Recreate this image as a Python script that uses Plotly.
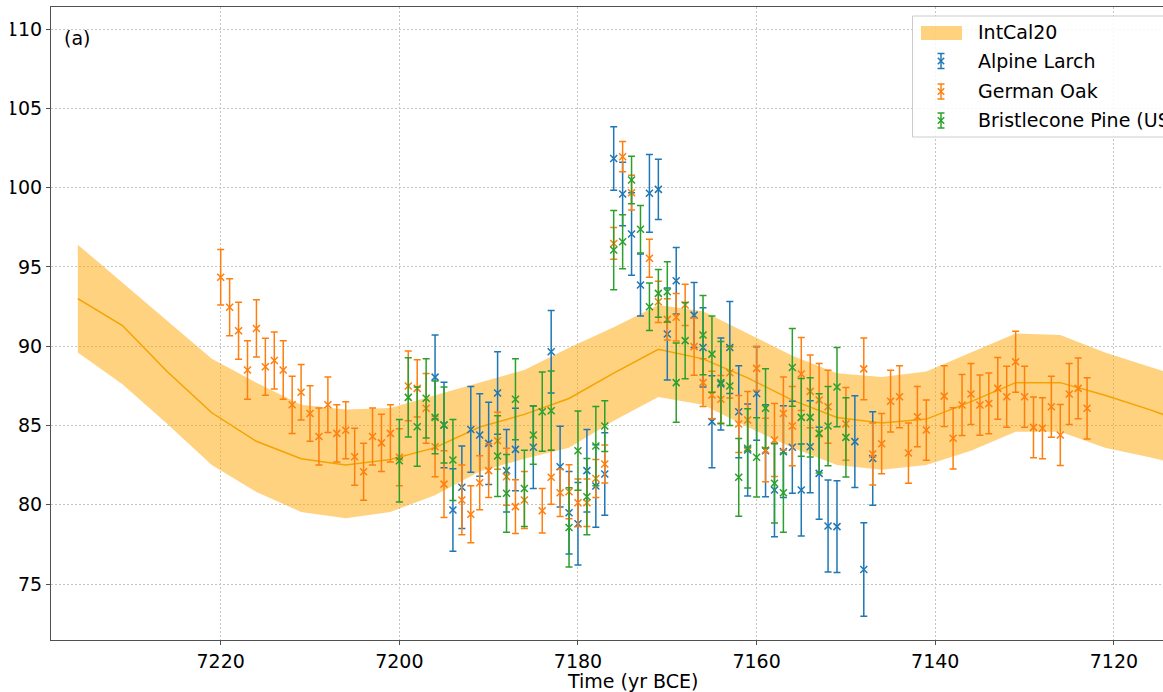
import plotly.graph_objects as go

# ---- IntCal20 calibration curve (5-yr grid), mean and 1-sigma envelope ----
intcal_year = [7236, 7231, 7226, 7221, 7216, 7211, 7206, 7201, 7196, 7191, 7186, 7181, 7176,
               7171, 7166, 7161, 7156, 7151, 7146, 7141, 7136, 7131, 7126, 7121, 7116, 7111]
intcal_mean = [93.0, 91.3, 88.4, 85.8, 84.0, 82.9, 82.5, 82.85, 83.6, 84.9, 85.7, 86.7, 88.3,
               89.8, 89.2, 88.0, 86.6, 85.5, 85.15, 85.4, 86.5, 87.7, 87.7, 86.9, 86.0, 85.0]
intcal_upper = [96.4, 94.0, 91.6, 89.2, 87.7, 86.3, 86.0, 86.1, 86.9, 87.7, 88.5, 89.9, 91.2,
                92.6, 92.2, 90.8, 89.4, 88.3, 88.05, 88.4, 89.6, 90.8, 90.7, 89.6, 88.7, 87.8]
intcal_lower = [89.6, 87.6, 85.1, 82.5, 80.8, 79.55, 79.15, 79.55, 80.6, 82.1, 82.9, 83.6, 85.3,
                86.8, 86.3, 84.9, 83.6, 82.5, 82.2, 82.5, 83.4, 84.6, 84.6, 83.6, 83.0, 82.3]

# ---- Alpine Larch ----
larch_year = [7196, 7195, 7194, 7193, 7192, 7191, 7190, 7189, 7188, 7187, 7185, 7183, 7182,
              7181, 7180, 7179, 7178, 7177, 7176, 7175, 7174, 7173, 7172, 7171, 7170, 7169,
              7167, 7166, 7165, 7164, 7163, 7162, 7161, 7160, 7159, 7158, 7157, 7156, 7155,
              7154, 7153, 7152, 7151, 7149, 7148, 7147]
larch_val = [88.05, 85.03, 79.67, 81.1, 84.75, 84.4, 83.87, 87.05, 82.15, 83.49, 83.62, 89.65, 82.4,
             79.5, 78.8, 82.15, 81.18, 81.94, 101.84, 99.6, 97.07, 93.86, 99.64, 99.89, 90.77, 94.13,
             91.96, 89.92, 85.24, 87.61, 89.92, 85.87, 83.45, 87.02, 83.41, 80.93, 83.35, 83.62, 80.93,
             83.66, 81.98, 78.66, 78.62, 83.98, 75.92, 82.92]
larch_err = [2.65, 2.7, 2.6, 2.6, 2.7, 2.6, 2.6, 2.6, 2.6, 2.6, 2.6, 2.6, 2.55,
             2.6, 2.6, 2.6, 2.6, 2.6, 2.0, 2.0, 2.6, 1.95, 2.45, 1.9, 2.9, 2.1,
             2.05, 2.5, 2.9, 2.9, 2.9, 2.9, 2.9, 2.95, 2.9, 2.95, 2.9, 2.9, 2.9,
             2.9, 2.9, 2.9, 2.9, 2.9, 2.95, 2.95]

# ---- German Oak ----
oak_year = [7220, 7219, 7218, 7217, 7216, 7215, 7214, 7213, 7212, 7211, 7210, 7209, 7208, 7207,
            7206, 7205, 7204, 7203, 7202, 7201, 7200, 7199, 7198, 7197, 7196, 7195, 7193, 7192,
            7191, 7190, 7189, 7188, 7187, 7186, 7184, 7183, 7182, 7181, 7180, 7179, 7178, 7177,
            7176, 7175, 7174, 7172, 7171, 7170, 7169, 7168, 7167, 7166, 7165, 7164, 7163, 7162,
            7161, 7160, 7159, 7158, 7157, 7156, 7155, 7154, 7153, 7152, 7150, 7148, 7147, 7146,
            7145, 7144, 7143, 7142, 7141, 7139, 7138, 7137, 7136, 7135, 7134, 7133, 7132, 7131,
            7130, 7129, 7128, 7127, 7126, 7125, 7124, 7123]
oak_val = [94.35, 92.45, 90.97, 88.5, 91.12, 88.7, 89.1, 88.5, 86.3, 87.1, 85.76, 84.3, 86.3, 84.5,
           84.7, 83.03, 82.08, 84.3, 83.9, 84.5, 83.0, 87.49, 87.34, 86.08, 83.66, 81.3, 80.3, 79.4,
           81.39, 82.15, 84.04, 81.77, 79.88, 80.3, 79.62, 81.73, 80.76, 80.82, 80.13, 80.13, 81.66, 82.57,
           96.48, 101.95, 99.68, 95.54, 92.8, 91.69, 91.82, 92.6, 89.97, 87.7, 86.92, 86.65, 88.33, 85.09,
           85.34, 88.6, 83.45, 84.08, 85.76, 84.96, 88.24, 87.15, 86.6, 86.18, 85.1, 88.57, 83.2, 83.85,
           86.53, 86.81, 83.26, 85.55, 84.71, 86.85, 84.19, 86.29, 86.98, 86.29, 86.39, 87.34, 86.81, 89.02,
           86.81, 84.88, 84.82, 86.18, 84.4, 86.98, 87.34, 86.08]
oak_err = [1.75, 1.8, 1.8, 1.85, 1.8, 1.8, 1.8, 1.85, 1.8, 1.75, 1.75, 1.8, 1.75, 1.8,
           1.8, 1.8, 1.8, 1.8, 1.8, 1.8, 1.8, 2.2, 1.8, 2.2, 1.9, 2.1, 2.2, 1.8,
           1.7, 1.7, 1.8, 1.8, 1.7, 1.8, 1.4, 1.7, 1.5, 1.7, 1.5, 1.5, 1.2, 1.2,
           1.0, 0.95, 1.1, 1.2, 1.3, 1.3, 1.5, 1.3, 1.8, 1.5, 1.5, 1.5, 1.6, 1.8,
           1.8, 1.4, 2.0, 2.3, 2.3, 2.5, 2.3, 2.3, 2.3, 2.3, 2.3, 1.95, 1.95, 1.9,
           1.95, 1.95, 1.9, 1.9, 1.9, 1.92, 1.93, 1.93, 1.92, 1.9, 1.92, 1.95, 1.92, 1.92,
           1.92, 1.92, 1.92, 1.92, 1.92, 1.92, 1.92, 1.93]

# ---- Bristlecone Pine (USA) ----
pine_year = [7200, 7199, 7198, 7197, 7196, 7195, 7194, 7189, 7188, 7187, 7186, 7185, 7184, 7183,
             7181, 7180, 7179, 7178, 7177, 7176, 7175, 7174, 7173, 7172, 7171, 7170, 7169, 7168,
             7166, 7165, 7164, 7163, 7162, 7161, 7160, 7159, 7158, 7157, 7156, 7155, 7154, 7153,
             7152, 7151, 7150]
pine_val = [82.78, 86.77, 84.92, 86.71, 85.51, 85.03, 82.82, 83.07, 80.72, 86.65, 81.03, 84.4, 85.87, 85.93,
            78.57, 83.41, 80.51, 83.7, 84.96, 96.06, 96.59, 100.48, 97.37, 92.49, 93.33, 93.43, 87.7, 90.35,
            90.7, 89.5, 87.7, 87.49, 81.73, 83.56, 82.99, 86.08, 81.35, 80.76, 88.66, 85.51, 85.51, 84.5,
            84.96, 87.42, 84.25]
pine_err = [2.6, 2.5, 2.5, 2.5, 2.3, 2.4, 2.55, 2.55, 2.45, 2.55, 2.4, 1.85, 2.5, 2.5,
            2.5, 2.5, 2.4, 2.5, 1.6, 2.5, 1.7, 1.5, 1.5, 1.5, 1.5, 1.9, 2.5, 2.4,
            2.5, 2.4, 2.6, 2.5, 2.45, 2.5, 2.5, 2.5, 2.5, 2.5, 2.45, 2.45, 2.5, 2.5,
            2.5, 2.5, 2.5]

legend_names = ["IntCal20", "Alpine Larch", "German Oak", "Bristlecone Pine (USA)"]

BLUE, ORANGE, GREEN = "#1f77b4", "#ff7f0e", "#2ca02c"
BAND = "rgba(255,165,0,0.5)"
FONT = "DejaVu Sans"

W, H = 1163, 692
ML, MR, MT, MB = 51, 0, 7, 52
PW, PH = W - ML - MR, H - MT - MB


def px(x):
    """Figure pixel column -> paper x."""
    return (x - ML) / PW


def py(y):
    """Figure pixel row (from top) -> paper y."""
    return (H - MB - y) / PH


fig = go.Figure()

# IntCal20 envelope as a closed polygon, then its mean curve
fig.add_trace(go.Scatter(
    x=intcal_year + intcal_year[::-1],
    y=intcal_upper + intcal_lower[::-1],
    fill="toself", fillcolor=BAND,
    line=dict(width=0, color="rgba(255,165,0,0)"),
    mode="lines", name=legend_names[0], hoverinfo="skip", showlegend=False,
))
fig.add_trace(go.Scatter(
    x=intcal_year, y=intcal_mean, mode="lines",
    line=dict(color="#f5a300", width=1.5), showlegend=False,
))


def series(xs, ys, errs, color, name):
    return go.Scatter(
        x=xs, y=ys, mode="markers", name=name, showlegend=False,
        marker=dict(symbol="x-thin", size=7, color=color, line=dict(width=1.5, color=color)),
        error_y=dict(type="data", array=errs, visible=True, color=color, thickness=1.5, width=3.5),
    )


fig.add_trace(series(larch_year, larch_val, larch_err, BLUE, legend_names[1]))
fig.add_trace(series(oak_year, oak_val, oak_err, ORANGE, legend_names[2]))
fig.add_trace(series(pine_year, pine_val, pine_err, GREEN, legend_names[3]))

axis_common = dict(
    showgrid=True, gridcolor="#c4c4c4", griddash="2px,2px", gridwidth=1,
    showline=True, linecolor="#505050", linewidth=1,
    ticks="outside", ticklen=4, tickcolor="#505050", tickwidth=1,
    tickfont=dict(family=FONT, size=19, color="black"),
    zeroline=False,
)

# ---- legend box drawn in the upper-right corner (runs past the right edge) ----
shapes = [
    dict(type="rect", xref="paper", yref="paper", layer="above",
         x0=px(912.5), x1=px(1220), y0=py(137), y1=py(16),
         line=dict(color="#cccccc", width=1), fillcolor="rgba(255,255,255,0.85)"),
    dict(type="rect", xref="paper", yref="paper", layer="above",
         x0=px(921), x1=px(962), y0=py(40), y1=py(26),
         line=dict(width=0), fillcolor=BAND),
]
row_y = [32, 61, 91.5, 120.5]
glyph_x = 941
for color, ry in zip([BLUE, ORANGE, GREEN], row_y[1:]):
    seg = [
        ((glyph_x, ry - 7.5), (glyph_x, ry + 7.5)),
        ((glyph_x - 3.5, ry - 7.5), (glyph_x + 3.5, ry - 7.5)),
        ((glyph_x - 3.5, ry + 7.5), (glyph_x + 3.5, ry + 7.5)),
        ((glyph_x - 3.2, ry - 3.2), (glyph_x + 3.2, ry + 3.2)),
        ((glyph_x - 3.2, ry + 3.2), (glyph_x + 3.2, ry - 3.2)),
    ]
    for (a, b) in seg:
        shapes.append(dict(type="line", xref="paper", yref="paper", layer="above",
                           x0=px(a[0]), y0=py(a[1]), x1=px(b[0]), y1=py(b[1]),
                           line=dict(color=color, width=1.5)))

# trims the leading digit of the three-digit y tick labels at the left edge
shapes.append(dict(type="rect", xref="paper", yref="paper", layer="above",
                   x0=px(-2), x1=px(10.5), y0=py(640), y1=py(0),
                   line=dict(width=0), fillcolor="white"))

annotations = [
    dict(text="(a)", xref="paper", yref="paper", x=px(62), y=py(38),
         xanchor="left", yanchor="middle", showarrow=False,
         font=dict(family=FONT, size=19, color="black")),
    dict(text="Time (yr BCE)", xref="paper", yref="paper", x=px(632), y=py(681),
         xanchor="center", yanchor="middle", showarrow=False,
         font=dict(family=FONT, size=19, color="black")),
]
for name, ry in zip(legend_names, row_y):
    annotations.append(dict(text=name, xref="paper", yref="paper", x=px(976), y=py(ry),
                            xanchor="left", yanchor="middle", showarrow=False,
                            font=dict(family=FONT, size=19, color="black")))

fig.update_layout(
    width=W, height=H,
    margin=dict(l=ML, r=MR, t=MT, b=MB),
    paper_bgcolor="white", plot_bgcolor="white",
    font=dict(family=FONT, size=19, color="black"),
    xaxis=dict(range=[7239.0, 7114.5], tick0=7120, dtick=20, mirror=True, **axis_common),
    yaxis=dict(range=[71.47, 111.39], tick0=75, dtick=5, mirror=False, **axis_common),
    showlegend=False,
    shapes=shapes,
    annotations=annotations,
)

fig.write_html("out.html")
